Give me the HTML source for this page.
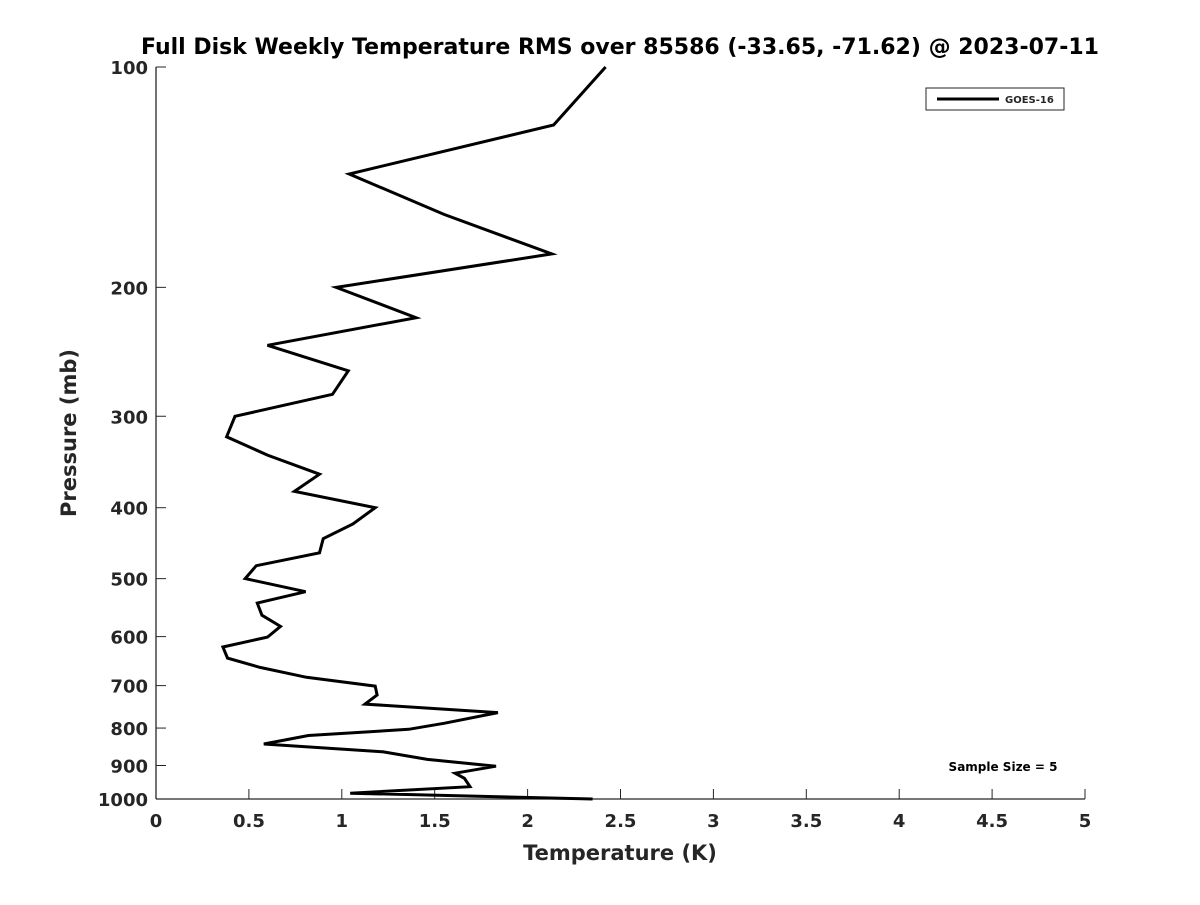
<!DOCTYPE html>
<html><head><meta charset="utf-8"><style>
body{margin:0;background:#fff}
text{font-family:"DejaVu Sans","Liberation Sans",sans-serif;font-weight:bold;fill:#262626}
</style></head><body>
<svg id="chart" width="1200" height="900" xmlns="http://www.w3.org/2000/svg">
<rect width="1200" height="900" fill="#fff"/>
<text x="620" y="54" font-size="22" text-anchor="middle" style="fill:#000">Full Disk Weekly Temperature RMS over 85586 (-33.65, -71.62) @ 2023-07-11</text>
<g id="axes"></g>
<polyline id="line" fill="none" stroke="#000" stroke-width="3" stroke-linejoin="miter"/>
<g>
<rect x="926" y="88" width="138" height="22" fill="#fff" stroke="#262626" stroke-width="1"/>
<line x1="937" y1="99" x2="999" y2="99" stroke="#000" stroke-width="3"/>
<text x="1005" y="103" font-size="10">GOES-16</text>
</g>
<text x="1003" y="771" font-size="12" text-anchor="middle" style="fill:#000">Sample Size = 5</text>
<text x="620" y="860" font-size="21" text-anchor="middle">Temperature (K)</text>
<text transform="translate(76,433) rotate(-90)" font-size="21" text-anchor="middle">Pressure (mb)</text>
</svg>
<script>
const pressure=[100,120,140,159,180,200,220,240,260,280,300,320,339,360,380,400,421,441,461,480,500,521,540,561,581,601,620,642,661,682,701,721,742,762,788,803,819,841,862,883,902,922,937,962,982,1000];
const temperature=[2.42,2.14,1.04,1.55,2.13,0.97,1.40,0.60,1.035,0.95,0.425,0.38,0.60,0.88,0.745,1.18,1.06,0.90,0.88,0.54,0.48,0.805,0.545,0.57,0.67,0.60,0.36,0.385,0.56,0.81,1.18,1.19,1.125,1.84,1.55,1.36,0.82,0.58,1.22,1.46,1.83,1.61,1.66,1.69,1.045,2.35];
const xTicks=[0,0.5,1,1.5,2,2.5,3,3.5,4,4.5,5];
const xTickLabels=["0","0.5","1","1.5","2","2.5","3","3.5","4","4.5","5"];
const yTicks=[100,200,300,400,500,600,700,800,900,1000];
const L=156,R=1085,T=67,B=799;
const xs=v=>L+(v-0)/(5-0)*(R-L);
const ys=p=>T+Math.log10(p/100)*(B-T);
const NS="http://www.w3.org/2000/svg";
const ax=document.getElementById('axes');
function mk(tag,attrs,parent){const e=document.createElementNS(NS,tag);for(const k in attrs)e.setAttribute(k,attrs[k]);parent.appendChild(e);return e;}
const xa=mk('line',{x1:L,y1:B,x2:R,y2:B,stroke:'#262626','stroke-width':1.3},ax);


const ya=mk('line',{x1:L,y1:T,x2:L,y2:B,stroke:'#262626','stroke-width':1.3},ax);


xTicks.forEach((v,i)=>{const x=xs(v);
 mk('line',{x1:x,y1:B,x2:x,y2:B-10,stroke:'#262626','stroke-width':1},ax);
 const t=mk('text',{x:x,y:B+28,'font-size':18,'text-anchor':'middle'},ax);t.textContent=xTickLabels[i];
 
 });
yTicks.forEach(p=>{const y=ys(p);
 mk('line',{x1:L,y1:y,x2:L+10,y2:y,stroke:'#262626','stroke-width':1},ax);
 const t=mk('text',{x:L-8,y:y+7,'font-size':18,'text-anchor':'end'},ax);t.textContent=String(p);
 
 });
document.getElementById('line').setAttribute('points',pressure.map((p,i)=>xs(temperature[i]).toFixed(1)+','+ys(p).toFixed(1)).join(' '));
</script>
</body></html>
